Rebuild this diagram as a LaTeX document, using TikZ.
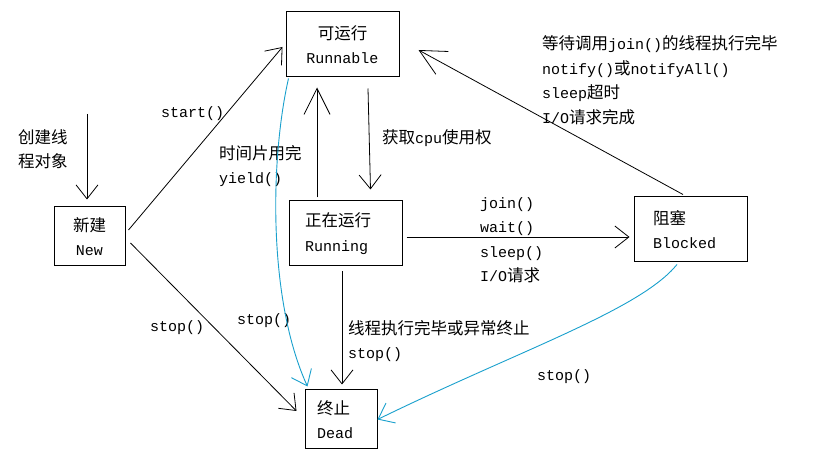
\documentclass[tikz,border=0pt]{standalone}
\usepackage{fontspec}
\setmainfont{Liberation Mono}
\newfontfamily\cjk{Noto Sans CJK SC}[Scale=1.1]
\usetikzlibrary{arrows.meta}
\definecolor{cyanline}{RGB}{25,160,205}
\begin{document}
\begin{tikzpicture}[x=1pt,y=-1pt, font=\fontsize{15}{24.5}\selectfont,
  box/.style={draw, line width=1pt, inner ysep=0pt},
  lbl/.style={anchor=west, inner sep=0pt, align=left},
  arr/.style={line width=0.8pt, -{Straight Barb[length=14pt,width=22pt]}},
  arrL/.style={line width=0.8pt, -{Straight Barb[length=26pt,width=26pt]}},
  cy/.style={draw=cyanline, line width=0.9pt}]
\fill[white] (0,0) rectangle (820,470);
\useasboundingbox (0,0) rectangle (820,470);

% state boxes
\node[box, inner xsep=0pt, minimum width=113pt, minimum height=65pt, align=center] (runnable) at (342.5,44.5) {{\cjk 可运行}\\Runnable};
\node[box, inner xsep=0pt, minimum width=71pt, minimum height=59pt, align=center] (new) at (89.5,236.5) {{\cjk 新建}\\New};
\node[box, inner xsep=16pt, text width=81pt, minimum height=65pt, align=left] (running) at (345.5,233.5) {{\cjk 正在运行}\\Running};
\node[box, inner xsep=19pt, text width=75pt, minimum height=65pt, align=left] (blocked) at (690.5,229.5) {{\cjk 阻塞}\\Blocked};
\node[box, inner xsep=12pt, text width=48pt, minimum height=59pt, align=left] (dead) at (341,419.5) {{\cjk 终止}\\Dead};

% labels
\node[lbl] (lcreate) at (18,149) {{\cjk 创建线}\\{\cjk 程对象}};
\node[lbl] (lstart) at (161,114) {start()};
\node[lbl] (lyield) at (219,166) {{\cjk 时间片用完}\\yield()};
\node[lbl] (lcpu) at (382,138) {{\cjk 获取}cpu{\cjk 使用权}};
\node[lbl] (lwake) at (542,80) {{\cjk 等待调用}join(){\cjk 的线程执行完毕}\\notify(){\cjk 或}notifyAll()\\sleep{\cjk 超时}\\I/O{\cjk 请求完成}};
\node[lbl] (lblock) at (480,240) {join()\\wait()\\sleep()\\I/O{\cjk 请求}};
\node[lbl] (lstopa) at (150,328) {stop()};
\node[lbl] (lstopb) at (237,321) {stop()};
\node[lbl] (lend) at (348,341) {{\cjk 线程执行完毕或异常终止}\\stop()};
\node[lbl] (lstopc) at (537,377) {stop()};

% connectors
\coordinate (c0) at (87,114);
\draw[arr] (c0) -- ([xshift=-2.5pt,yshift=7pt]new.north);
\draw[arr] ([xshift=3pt,yshift=6.5pt]new.east) -- ([xshift=-3pt,yshift=-2.5pt]runnable.west);
\draw[arrL] ([xshift=-28.5pt,yshift=3pt]running.north) -- ([xshift=-25.5pt,yshift=-10pt]runnable.south);
\draw[arr] ([xshift=25.5pt,yshift=-11pt]runnable.south) -- ([xshift=25pt,yshift=11pt]running.north);
\draw[arr] ([xshift=4pt,yshift=-3.5pt]running.east) -- ([xshift=-4pt,yshift=-7.5pt]blocked.west);
\draw[arrL] ([xshift=-7.5pt,yshift=2pt]blocked.north) -- ([xshift=19pt,yshift=-5.5pt]runnable.east);
\draw[arr] ([xshift=-3.5pt,yshift=-5pt]running.south) -- ([xshift=1pt,yshift=5pt]dead.north);
\draw[arr] ([xshift=5pt,yshift=-6.5pt]new.east) -- ([xshift=-8pt,yshift=8.5pt]dead.west);
\draw[arr, cy] ([xshift=3pt,yshift=-1pt]runnable.south west) .. controls (270,160) and (268,300) .. ([xshift=3pt,yshift=3pt]dead.north west);
\draw[arr, cy] ([xshift=-13.5pt,yshift=-2pt]blocked.south) .. controls (640,310) and (520,350) .. (dead.east);
\end{tikzpicture}
\end{document}
